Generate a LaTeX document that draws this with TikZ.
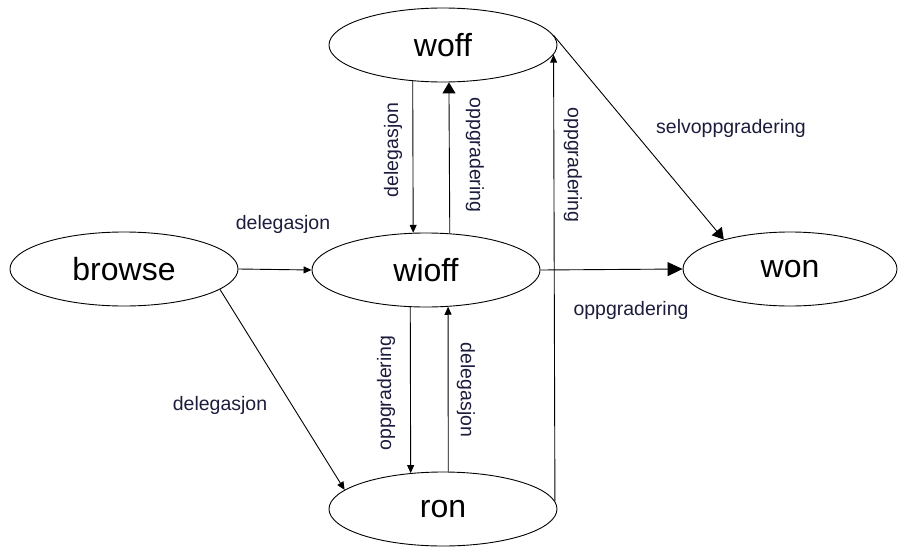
\documentclass[tikz,border=0pt]{standalone}
\usepackage{fontspec}
\setmainfont{Liberation Sans}
\usetikzlibrary{shapes.geometric,arrows.meta}
\definecolor{labelcol}{RGB}{28,28,60}
\begin{document}
\begin{tikzpicture}[x=1pt,y=-1pt,
  state/.style={draw=black,line width=0.9pt,ellipse,inner sep=0pt,
    minimum width=228pt,minimum height=74pt,font=\fontsize{32}{36}\selectfont},
  edge/.style={draw=black,line width=0.9pt},
  small/.style={-{Triangle[length=8pt,width=7pt]}},
  big/.style={-{Triangle[length=15pt,width=14pt]}},
  mid/.style={-{Triangle[length=11pt,width=13pt]}},
  lbl/.style={text=labelcol,font=\fontsize{19.5}{22}\selectfont,inner sep=0pt}]
\useasboundingbox (0,0) rectangle (899,546);
\node[state] (woff) at (443,45) {woff};
\node[state] (browse) at (124,269) {browse};
\node[state] (wioff) at (426,270) {wioff};
\node[state,minimum width=214pt] (won) at (790,269) {won};
\node[state] (ron) at (443,509) {ron};

\draw[edge,small] (browse.east) -- (wioff.west);
\draw[edge,small] (browse.348) -- (ron.169.4);
\draw[edge,small] (woff.230) -- (wioff.109.5);
\draw[edge,mid] (wioff.57.6) -- (woff.279.2);
\draw[edge,small] (wioff.247.8) -- (ron.132);
\draw[edge,small] (ron.82.3) -- (wioff.301.2);
\draw[edge,small] (ron.4.4) -- (woff.355);
\draw[edge,mid] (woff.5) -- (won.156.7);
\draw[edge,big] (wioff.east) -- (won.west);

\node[lbl] (l1) at (283,224) {delegasjon};
\node[lbl] (l2) at (220,405) {delegasjon};
\node[lbl,rotate=90] (l3) at (393,150) {delegasjon};
\node[lbl,rotate=-90] (l4) at (475,155) {oppgradering};
\node[lbl,rotate=90] (l5) at (386,393) {oppgradering};
\node[lbl,rotate=-90] (l6) at (466,390) {delegasjon};
\node[lbl,rotate=-90] (l7) at (573,165) {oppgradering};
\node[lbl] (l8) at (731,128) {selvoppgradering};
\node[lbl] (l9) at (631,310) {oppgradering};
\end{tikzpicture}
\end{document}
